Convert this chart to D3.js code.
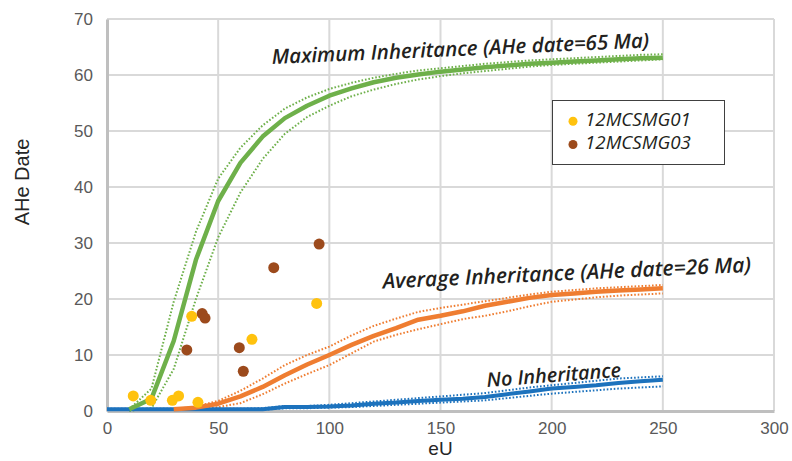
<!DOCTYPE html>
<html>
<head>
<meta charset="utf-8">
<script src="https://cdn.jsdelivr.net/npm/d3@7"></script>
<style>
html,body{margin:0;padding:0;background:#fff;}
svg{display:block;}
</style>
</head>
<body>
<svg id="chart" width="792" height="461"></svg>
<script>
// ---- data ----
const eUGrid = [0,10,20,30,40,50,60,70,80,90,100,110,120,130,140,150,160,170,180,190,200,210,220,230,240,250];

const maxSolid = [null,0.3,2.2,12.5,27,37.5,44.3,49,52.3,54.5,56.3,57.6,58.7,59.5,60.1,60.6,61,61.4,61.7,62,62.2,62.4,62.6,62.8,63,63.1];
const maxUpper = [null,0.3,4,19.5,32,41.5,47,51,54,56,57.5,58.6,59.5,60.2,60.8,61.2,61.6,62,62.3,62.6,62.8,63,63.2,63.4,63.6,63.7];
const maxLower = [null,0,0.5,7.5,20,31,39,45,49.5,52.5,54.5,56.2,57.4,58.4,59.2,59.8,60.3,60.7,61.1,61.5,61.8,62,62.2,62.4,62.6,62.8];

const avgSolid = [null,null,null,0.3,0.6,1.3,2.6,4.3,6.4,8.3,10,11.8,13.4,14.8,16.3,17,17.8,18.8,19.5,20.2,20.7,21,21.3,21.5,21.7,21.9];
const avgUpper = [null,null,null,0.3,0.8,1.8,3.6,5.8,8.2,10,11.5,13.5,15.2,16.5,17.7,18.4,19,19.6,20.2,20.8,21.3,21.6,21.9,22.1,22.3,22.5];
const avgLower = [null,null,null,0.2,0.3,0.7,1.4,3,4.9,6.6,8.2,10.3,12.4,13.6,14.6,15.5,16.4,17,17.8,18.7,19.5,19.9,20.3,20.6,20.8,21];

const noSolid = [0.3,0.3,0.3,0.3,0.3,0.3,0.3,0.3,0.7,0.7,0.8,1,1.3,1.5,1.8,2,2.2,2.5,3,3.5,4,4.3,4.6,5,5.3,5.6];
const noUpper = [0.4,0.4,0.4,0.4,0.4,0.4,0.4,0.5,0.9,0.9,1.1,1.4,1.7,2,2.3,2.6,2.9,3.2,3.7,4.2,4.6,5,5.4,5.8,6,6.2];
const noLower = [0.2,0.2,0.2,0.2,0.2,0.2,0.2,0.2,0.5,0.5,0.6,0.7,0.9,1.1,1.3,1.5,1.7,1.9,2.3,2.7,3.1,3.4,3.7,4,4.2,4.4];

const s01Name = "12MCSMG01";
const s01eU  = [11.8,19.7,29.4,32.2,40.9,38.1,65.2,94.3];
const s01Age = [2.7,1.9,1.9,2.7,1.55,16.9,12.8,19.2];
const s03Name = "12MCSMG03";
const s03eU  = [95.4,75.0,42.8,44.1,35.9,59.5,61.3];
const s03Age = [29.8,25.6,17.4,16.6,10.9,11.3,7.1];

const xTicks = [0,50,100,150,200,250,300];
const yTicks = [0,10,20,30,40,50,60,70];

const labelMax = "Maximum Inheritance (AHe date=65 Ma)";
const labelAvg = "Average Inheritance (AHe date=26 Ma)";
const labelNo  = "No Inheritance";
const xTitle = "eU";
const yTitle = "AHe Date";

// ---- chart ----
const svg = d3.select("#chart");
const L = 107, R = 774, T = 19, B = 411;
const x = d3.scaleLinear().domain([0,300]).range([L,R]);
const y = d3.scaleLinear().domain([0,70]).range([B,T]);

const cGreen = "#6eb04a", cOrange = "#ef7d31", cBlue = "#1c72bd";
const cYellow = "#ffc20e", cBrown = "#9c4a1c";

// gridlines
const grid = svg.append("g");
grid.selectAll("line.h").data(yTicks.filter(d=>d>0)).join("line")
  .attr("x1", L).attr("x2", R).attr("y1", d=>y(d)).attr("y2", d=>y(d))
  .attr("stroke", "#d9d9d9").attr("stroke-width", 2);
grid.selectAll("line.v").data(xTicks.filter(d=>d>0)).join("line")
  .attr("y1", T).attr("y2", B).attr("x1", d=>x(d)).attr("x2", d=>x(d))
  .attr("stroke", "#d9d9d9").attr("stroke-width", 2);

// axes
const xAxis = d3.axisBottom(x).tickValues(xTicks).tickSize(0).tickPadding(16);
const yAxis = d3.axisLeft(y).tickValues(yTicks).tickSize(0).tickPadding(15);
const gx = svg.append("g").attr("transform", `translate(0,${B})`).call(xAxis);
const gy = svg.append("g").attr("transform", `translate(${L},0)`).call(yAxis);
[gx, gy].forEach(g => {
  g.select(".domain").attr("stroke", "#bfbfbf").attr("stroke-width", 3);
  g.selectAll("text").attr("fill", "#595959")
    .style("font-family", "'Liberation Sans', Arial, sans-serif").style("font-size", "17px");
});
gx.selectAll("text").attr("dy", "0.35em").attr("y", 17);
gy.selectAll("text").attr("x", -14);

// titles
svg.append("text").attr("x", x(150)).attr("y", 455).attr("text-anchor", "middle")
  .style("font-family", "'Liberation Sans', Arial, sans-serif").style("font-size", "19px")
  .attr("fill", "#262626").text(xTitle);
svg.append("text").attr("transform", "translate(29,182) rotate(-90)").attr("text-anchor", "middle")
  .style("font-family", "'Liberation Sans', Arial, sans-serif").style("font-size", "20px")
  .attr("fill", "#262626").text(yTitle);

// lines
function series(vals){ return eUGrid.map((e,i)=>({e, v: vals[i]})); }
const line = d3.line().defined(d=>d.v!==null).x(d=>x(d.e)).y(d=>y(d.v));
const dotted = [[maxUpper,cGreen],[maxLower,cGreen],[avgUpper,cOrange],[avgLower,cOrange],[noUpper,cBlue],[noLower,cBlue]];
const solid = [[noSolid,cBlue,4],[avgSolid,cOrange,4.5],[maxSolid,cGreen,4.5]];
svg.append("g").selectAll("path").data(dotted).join("path")
  .attr("d", d=>line(series(d[0]))).attr("fill","none").attr("stroke", d=>d[1])
  .attr("stroke-width", 2).attr("stroke-dasharray", "1.6 1.9");
svg.append("g").selectAll("path").data(solid).join("path")
  .attr("d", d=>line(series(d[0]))).attr("fill","none").attr("stroke", d=>d[1])
  .attr("stroke-width", d=>d[2]).attr("stroke-linejoin","round");

// points
const pts = svg.append("g");
pts.selectAll("circle.b").data(s03eU.map((e,i)=>[e,s03Age[i]])).join("circle")
  .attr("cx", d=>x(d[0])).attr("cy", d=>y(d[1])).attr("r", 5.5).attr("fill", cBrown);
pts.selectAll("circle.y").data(s01eU.map((e,i)=>[e,s01Age[i]])).join("circle")
  .attr("cx", d=>x(d[0])).attr("cy", d=>y(d[1])).attr("r", 5.5).attr("fill", cYellow);

// annotations
function fit(t, w){
  const cur = t.node().getComputedTextLength();
  const fs = parseFloat(t.style("font-size"));
  t.style("font-size", (fs * w / cur) + "px");
}
const annFont = "'Open Sans', Lato, 'DejaVu Sans', sans-serif";
function ann(txt, x0, y0, ang, w){
  const t = svg.append("text").attr("transform", `translate(${x0},${y0}) rotate(${ang})`)
    .style("font-family", annFont).style("font-style","italic").style("font-weight", 600)
    .style("font-size","18px").attr("fill","#231f20").text(txt);
  fit(t, w);
}
ann(labelMax, 272, 64, -2.5, 378);
ann(labelAvg, 383, 288.5, -2.6, 369);
ann(labelNo, 487, 387, -4.3, 135);

// legend
const lg = svg.append("g");
lg.append("rect").attr("x", 552.5).attr("y", 100.5).attr("width", 172).attr("height", 64)
  .attr("fill", "#fff").attr("stroke", "#404040").attr("stroke-width", 1);
[[s01Name,cYellow,126],[s03Name,cBrown,149.3]].forEach(([n,c,by])=>{
  lg.append("circle").attr("cx", 573).attr("cy", by-4.8).attr("r", 4.5).attr("fill", c);
  const t = lg.append("text").attr("x", 585).attr("y", by)
    .style("font-family", annFont).style("font-style","italic").style("font-weight",400)
    .style("font-size","17px").attr("fill","#231f20").text(n);
  fit(t, 106);
});
</script>
</body>
</html>
